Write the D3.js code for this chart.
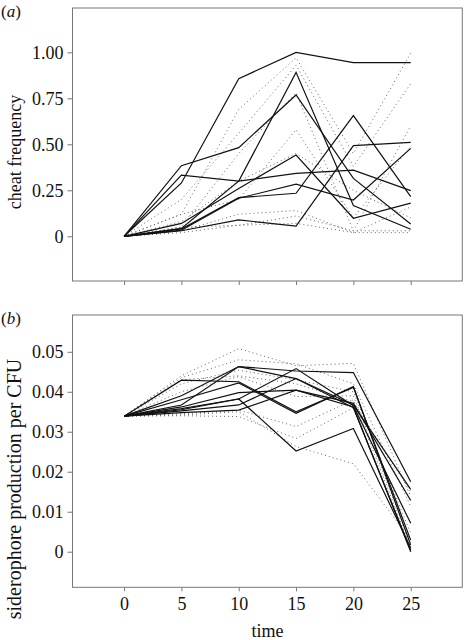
<!DOCTYPE html>
<html><head><meta charset="utf-8">
<script src="https://cdn.jsdelivr.net/npm/d3@7"></script>
<style>body{margin:0;background:#fff}svg{display:block}
text{font-family:"Liberation Serif","DejaVu Serif","Times New Roman",Times,serif}</style>
</head><body><svg id="c" width="466" height="640"></svg>
<script>
const times = [0, 5, 10, 15, 20, 25];
const xTicks = ["0", "5", "10", "15", "20", "25"];
const yTicksA = [0, 0.25, 0.5, 0.75, 1.0];
const yTickLabelsA = ["0", "0.25", "0.50", "0.75", "1.00"];
const yTicksB = [0, 0.01, 0.02, 0.03, 0.04, 0.05];
const yTickLabelsB = ["0", "0.01", "0.02", "0.03", "0.04", "0.05"];

// panel (a): cheat frequency, solid lines
const cheatSolid = [
  [0, 0.29, 0.857, 1.00, 0.944, 0.944],
  [0, 0.384, 0.482, 0.768, 0.315, 0.067],
  [0, 0.333, 0.30, 0.891, 0.167, 0.038],
  [0, 0.07, 0.26, 0.442, 0.098, 0.18],
  [0, 0.04, 0.21, 0.234, 0.656, 0.216],
  [0, 0.03, 0.089, 0.056, 0.493, 0.511],
  [0, 0.043, 0.30, 0.342, 0.36, 0.248],
  [0, 0.034, 0.207, 0.283, 0.197, 0.478]
];
// panel (a): dotted lines
const cheatDotted = [
  [0, 0.12, 0.69, 0.97, 0.45, 0.995],
  [0, 0.20, 0.56, 0.93, 0.38, 0.83],
  [0, 0.05, 0.45, 0.78, 0.03, 0.60],
  [0, 0.12, 0.20, 0.58, 0.10, 0.49],
  [0, 0.03, 0.12, 0.14, 0.02, 0.16],
  [0, 0.05, 0.06, 0.11, 0.03, 0.03],
  [0, 0.02, 0.06, 0.07, 0.02, 0.02],
  [0, 0.08, 0.30, 0.45, 0.25, 0.10]
];
// panel (b): siderophore production per CFU, solid lines
const sidSolid = [
  [0.0339, 0.0429, 0.0425, 0.0350, 0.0411, 0.0029],
  [0.0339, 0.0380, 0.0422, 0.0346, 0.0413, 0.0017],
  [0.0339, 0.0367, 0.0463, 0.0452, 0.0448, 0.0175],
  [0.0339, 0.0390, 0.0463, 0.0433, 0.0367, 0.0156],
  [0.0339, 0.0362, 0.0398, 0.0404, 0.0371, 0.0128],
  [0.0339, 0.0358, 0.0382, 0.0458, 0.0365, 0.0071],
  [0.0339, 0.0352, 0.0367, 0.0433, 0.0360, 0.0004],
  [0.0339, 0.0348, 0.0354, 0.0404, 0.0362, 0.0000],
  [0.0339, 0.0355, 0.0382, 0.0252, 0.0308, 0.0010]
];
// panel (b): dotted lines
const sidDotted = [
  [0.0339, 0.0440, 0.0508, 0.0465, 0.0471, 0.0138],
  [0.0339, 0.0435, 0.0480, 0.0470, 0.0420, 0.0113],
  [0.0339, 0.0420, 0.0454, 0.0430, 0.0400, 0.0046],
  [0.0339, 0.0400, 0.0438, 0.0388, 0.0390, 0.0020],
  [0.0339, 0.0345, 0.0354, 0.0313, 0.0380, 0.0010],
  [0.0339, 0.0340, 0.0338, 0.0283, 0.0360, 0.0005],
  [0.0339, 0.0342, 0.0350, 0.0263, 0.0220, 0.0030],
  [0.0339, 0.0430, 0.0440, 0.0420, 0.0375, 0.0150]
];

const svg = d3.select("#c");
const x = d3.scaleLinear().domain([-4.5, 29.5]).range([72.5, 462.3]);
const frameColor = "#777";

function panel(cfg) {
  const y = d3.scaleLinear().domain(cfg.domain).range([cfg.bottom, cfg.top]);
  const g = svg.append("g");
  g.append("rect").attr("x", x.range()[0]).attr("y", cfg.top)
    .attr("width", x.range()[1] - x.range()[0]).attr("height", cfg.bottom - cfg.top)
    .attr("fill", "none").attr("stroke", frameColor).attr("stroke-width", 1);

  const yAxis = d3.axisLeft(y).tickValues(cfg.yTicks).tickSize(5).tickPadding(4)
    .tickFormat((d, i) => cfg.yLabels[i]);
  const ya = g.append("g").attr("transform", `translate(${x.range()[0]},0)`).call(yAxis);
  ya.attr("font-family", null).attr("font-size", null);
  ya.select(".domain").remove();
  ya.selectAll("line").attr("stroke", frameColor);
  ya.selectAll("text").style("font-size", "18px").attr("fill", "#111");

  const xAxis = d3.axisBottom(x).tickValues(times).tickSize(4).tickPadding(6)
    .tickFormat((d, i) => cfg.showX ? xTicks[i] : "");
  const xa = g.append("g").attr("transform", `translate(0,${cfg.bottom})`).call(xAxis);
  xa.attr("font-family", null).attr("font-size", null);
  xa.select(".domain").remove();
  xa.selectAll("line").attr("stroke", frameColor);
  xa.selectAll("text").style("font-size", "18px").attr("fill", "#111");

  const line = d3.line().x((d, i) => x(times[i])).y(d => y(d));
  g.selectAll(".dot").data(cfg.dotted).join("path")
    .attr("d", line).attr("fill", "none").attr("stroke", "#666")
    .attr("stroke-width", 1).attr("stroke-dasharray", "1,3");
  g.selectAll(".sol").data(cfg.solid).join("path")
    .attr("d", line).attr("fill", "none").attr("stroke", "#111")
    .attr("stroke-width", 1.2).attr("stroke-linejoin", "miter");

  g.append("text").attr("transform", `translate(21,${cfg.labelY}) rotate(-90)`)
    .attr("text-anchor", "middle").style("font-size", cfg.labelSize + "px")
    .attr("fill", "#111").text(cfg.ylabel);
  const pl = g.append("text").attr("x", 1).attr("y", cfg.panelY)
    .style("font-size", "17px").attr("fill", "#111");
  pl.append("tspan").text("(");
  pl.append("tspan").attr("font-style", "italic").text(cfg.panel);
  pl.append("tspan").text(")");
}

panel({domain: [-0.243, 1.241], top: 8, bottom: 281, yTicks: yTicksA, yLabels: yTickLabelsA,
  showX: false, solid: cheatSolid, dotted: cheatDotted, ylabel: "cheat frequency",
  labelY: 152, labelSize: 18, panel: "a", panelY: 17});
panel({domain: [-0.0089, 0.0592], top: 315, bottom: 587.3, yTicks: yTicksB, yLabels: yTickLabelsB,
  showX: true, solid: sidSolid, dotted: sidDotted, ylabel: "siderophore production per CFU",
  labelY: 489, labelSize: 20, panel: "b", panelY: 324});

svg.append("text").attr("x", x(12.5)).attr("y", 637).attr("text-anchor", "middle")
  .style("font-size", "18px").attr("fill", "#111").text("time");
</script></body></html>
